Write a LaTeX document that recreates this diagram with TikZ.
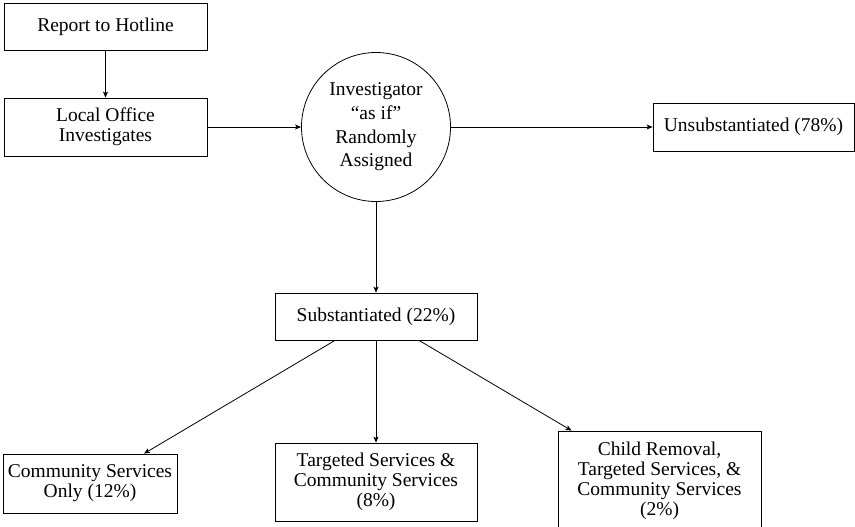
\documentclass[tikz,border=0pt]{standalone}
\usepackage{fontspec}
\setmainfont{Liberation Serif}
\usetikzlibrary{arrows.meta}
\tikzset{
  flowbox/.style={draw, line width=0.8pt, inner sep=0pt, align=center,
    font=\fontsize{19.5}{20}\selectfont},
  flowcirc/.style={draw, circle, line width=0.8pt, inner sep=0pt, align=center,
    font=\fontsize{19.5}{23.7}\selectfont},
  flowarrow/.style={-{Stealth[length=6pt,width=5pt,inset=1.5pt]}, line width=0.8pt}
}
\begin{document}
\begin{tikzpicture}[x=1pt,y=-1pt]
                    \useasboundingbox (0,0) rectangle (855,527);
                    
                    % Drawing report box
                    \node [flowbox, minimum width=203, minimum height=47] (report) at (105.5,26.5) {Report to Hotline};%
                    
                    % Drawing local office box
                    \node [flowbox, minimum width=203, minimum height=58] (local) at (105.5,127) {Local Office\\Investigates};%
                    
                    % Drawing investigator circle
                    \node [flowcirc, minimum size=149] (invest) at (376,127) {Investigator\\``as if''\\Randomly\\Assigned};%
                    
                    % Drawing outcome boxes
                    \node [flowbox, minimum width=201, minimum height=48] (unsub) at (753.5,127) {Unsubstantiated (78\%)};%
                    \node [flowbox, minimum width=202, minimum height=47] (subst) at (376,316.5) {Substantiated (22\%)};%
                    
                    % Drawing service boxes
                    \node [flowbox, minimum width=174, minimum height=59] (commonly) at (90,483.5) {Community Services\\Only (12\%)};%
                    \node [flowbox, minimum width=202, minimum height=78] (targeted) at (376,482) {Targeted Services \&\\Community Services\\(8\%)};%
                    \node [flowbox, minimum width=203, minimum height=100] (removal) at (659.5,481) {Child Removal,\\Targeted Services, \&\\Community Services\\(2\%)};%
                    
                    % Drawing arrows
                    \draw [flowarrow] (report.south) -- (local.north);%
                    \draw [flowarrow] (local.east) -- (invest.west);%
                    \draw [flowarrow] (invest.east) -- (unsub.west);%
                    \draw [flowarrow] (invest.south) -- (subst.north);%
                    \draw [flowarrow] ([xshift=-41]subst.south) -- ([xshift=54]commonly.north);%
                    \draw [flowarrow] (subst.south) -- (targeted.north);%
                    \draw [flowarrow] ([xshift=43]subst.south) -- ([xshift=14]removal.north west);%
                \end{tikzpicture}
\end{document}
